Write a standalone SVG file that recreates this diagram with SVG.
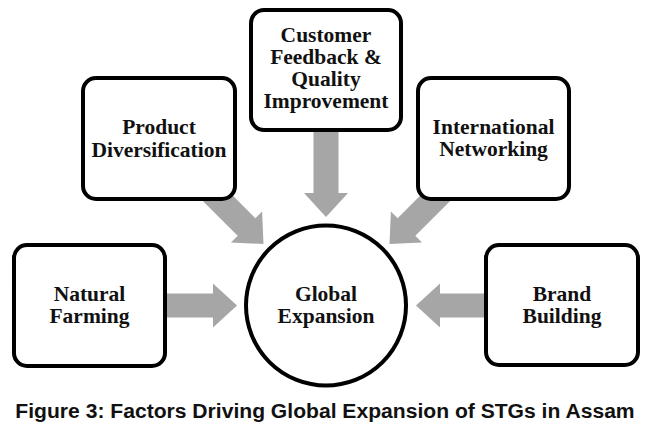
<svg xmlns="http://www.w3.org/2000/svg" width="651" height="427" viewBox="0 0 651 427">
<style>
.box{fill:#ffffff;stroke:#000000;stroke-width:4}
.lbl{font-family:"Liberation Serif","Times New Roman",serif;font-weight:bold;font-size:21.5px;fill:#111111;text-anchor:middle}
.arr{fill:#a6a6a6;stroke:none}
.cap{font-family:"Liberation Sans",Arial,sans-serif;font-weight:bold;font-size:21.1px;fill:#111111;text-anchor:middle}
</style>
<defs>
<path id="diag" d="M-85,-12.5 H-24 V-22 L0,0 L-24,22 V12.5 H-85 Z"/>
</defs>
<rect width="651" height="427" fill="#ffffff"/>
<g id="connectors">
<polygon class="arr" points="160,293.5 213,293.5 213,283.5 237,305.5 213,327.5 213,317.5 160,317.5"/>
<polygon class="arr" points="490,293.5 440,293.5 440,283.5 416,305.5 440,327.5 440,317.5 490,317.5"/>
<polygon class="arr" points="313.5,125 338.5,125 338.5,193 348,193 326,217 304,193 313.5,193"/>
<use href="#diag" class="arr" transform="translate(263.5,244) rotate(45)"/>
<use href="#diag" class="arr" transform="translate(389.5,244) rotate(135)"/>
</g>
<g id="product">
<rect class="box" x="83" y="78" width="152" height="121" rx="13"/>
<text class="lbl" x="159" y="134">Product</text>
<text class="lbl" x="159" y="157">Diversification</text>
</g>
<g id="customer">
<rect class="box" x="251" y="10" width="150" height="120" rx="13"/>
<text class="lbl" x="326" y="42">Customer</text>
<text class="lbl" x="326" y="64">Feedback &amp;</text>
<text class="lbl" x="326" y="86">Quality</text>
<text class="lbl" x="326" y="108">Improvement</text>
</g>
<g id="international">
<rect class="box" x="418" y="78" width="151" height="121" rx="13"/>
<text class="lbl" x="493.5" y="133.5">International</text>
<text class="lbl" x="493.5" y="156">Networking</text>
</g>
<g id="natural">
<rect class="box" x="14" y="245" width="151" height="121" rx="13"/>
<text class="lbl" x="89.5" y="300.7">Natural</text>
<text class="lbl" x="89.5" y="323.3">Farming</text>
</g>
<g id="brand">
<rect class="box" x="486" y="245" width="152" height="120" rx="13"/>
<text class="lbl" x="562" y="300.7">Brand</text>
<text class="lbl" x="562" y="323.3">Building</text>
</g>
<g id="global">
<circle class="box" cx="326" cy="305.5" r="80"/>
<text class="lbl" x="326" y="300.7">Global</text>
<text class="lbl" x="326" y="323.3">Expansion</text>
</g>
<text class="cap" x="325" y="417.5">Figure 3: Factors Driving Global Expansion of STGs in Assam</text>
</svg>
